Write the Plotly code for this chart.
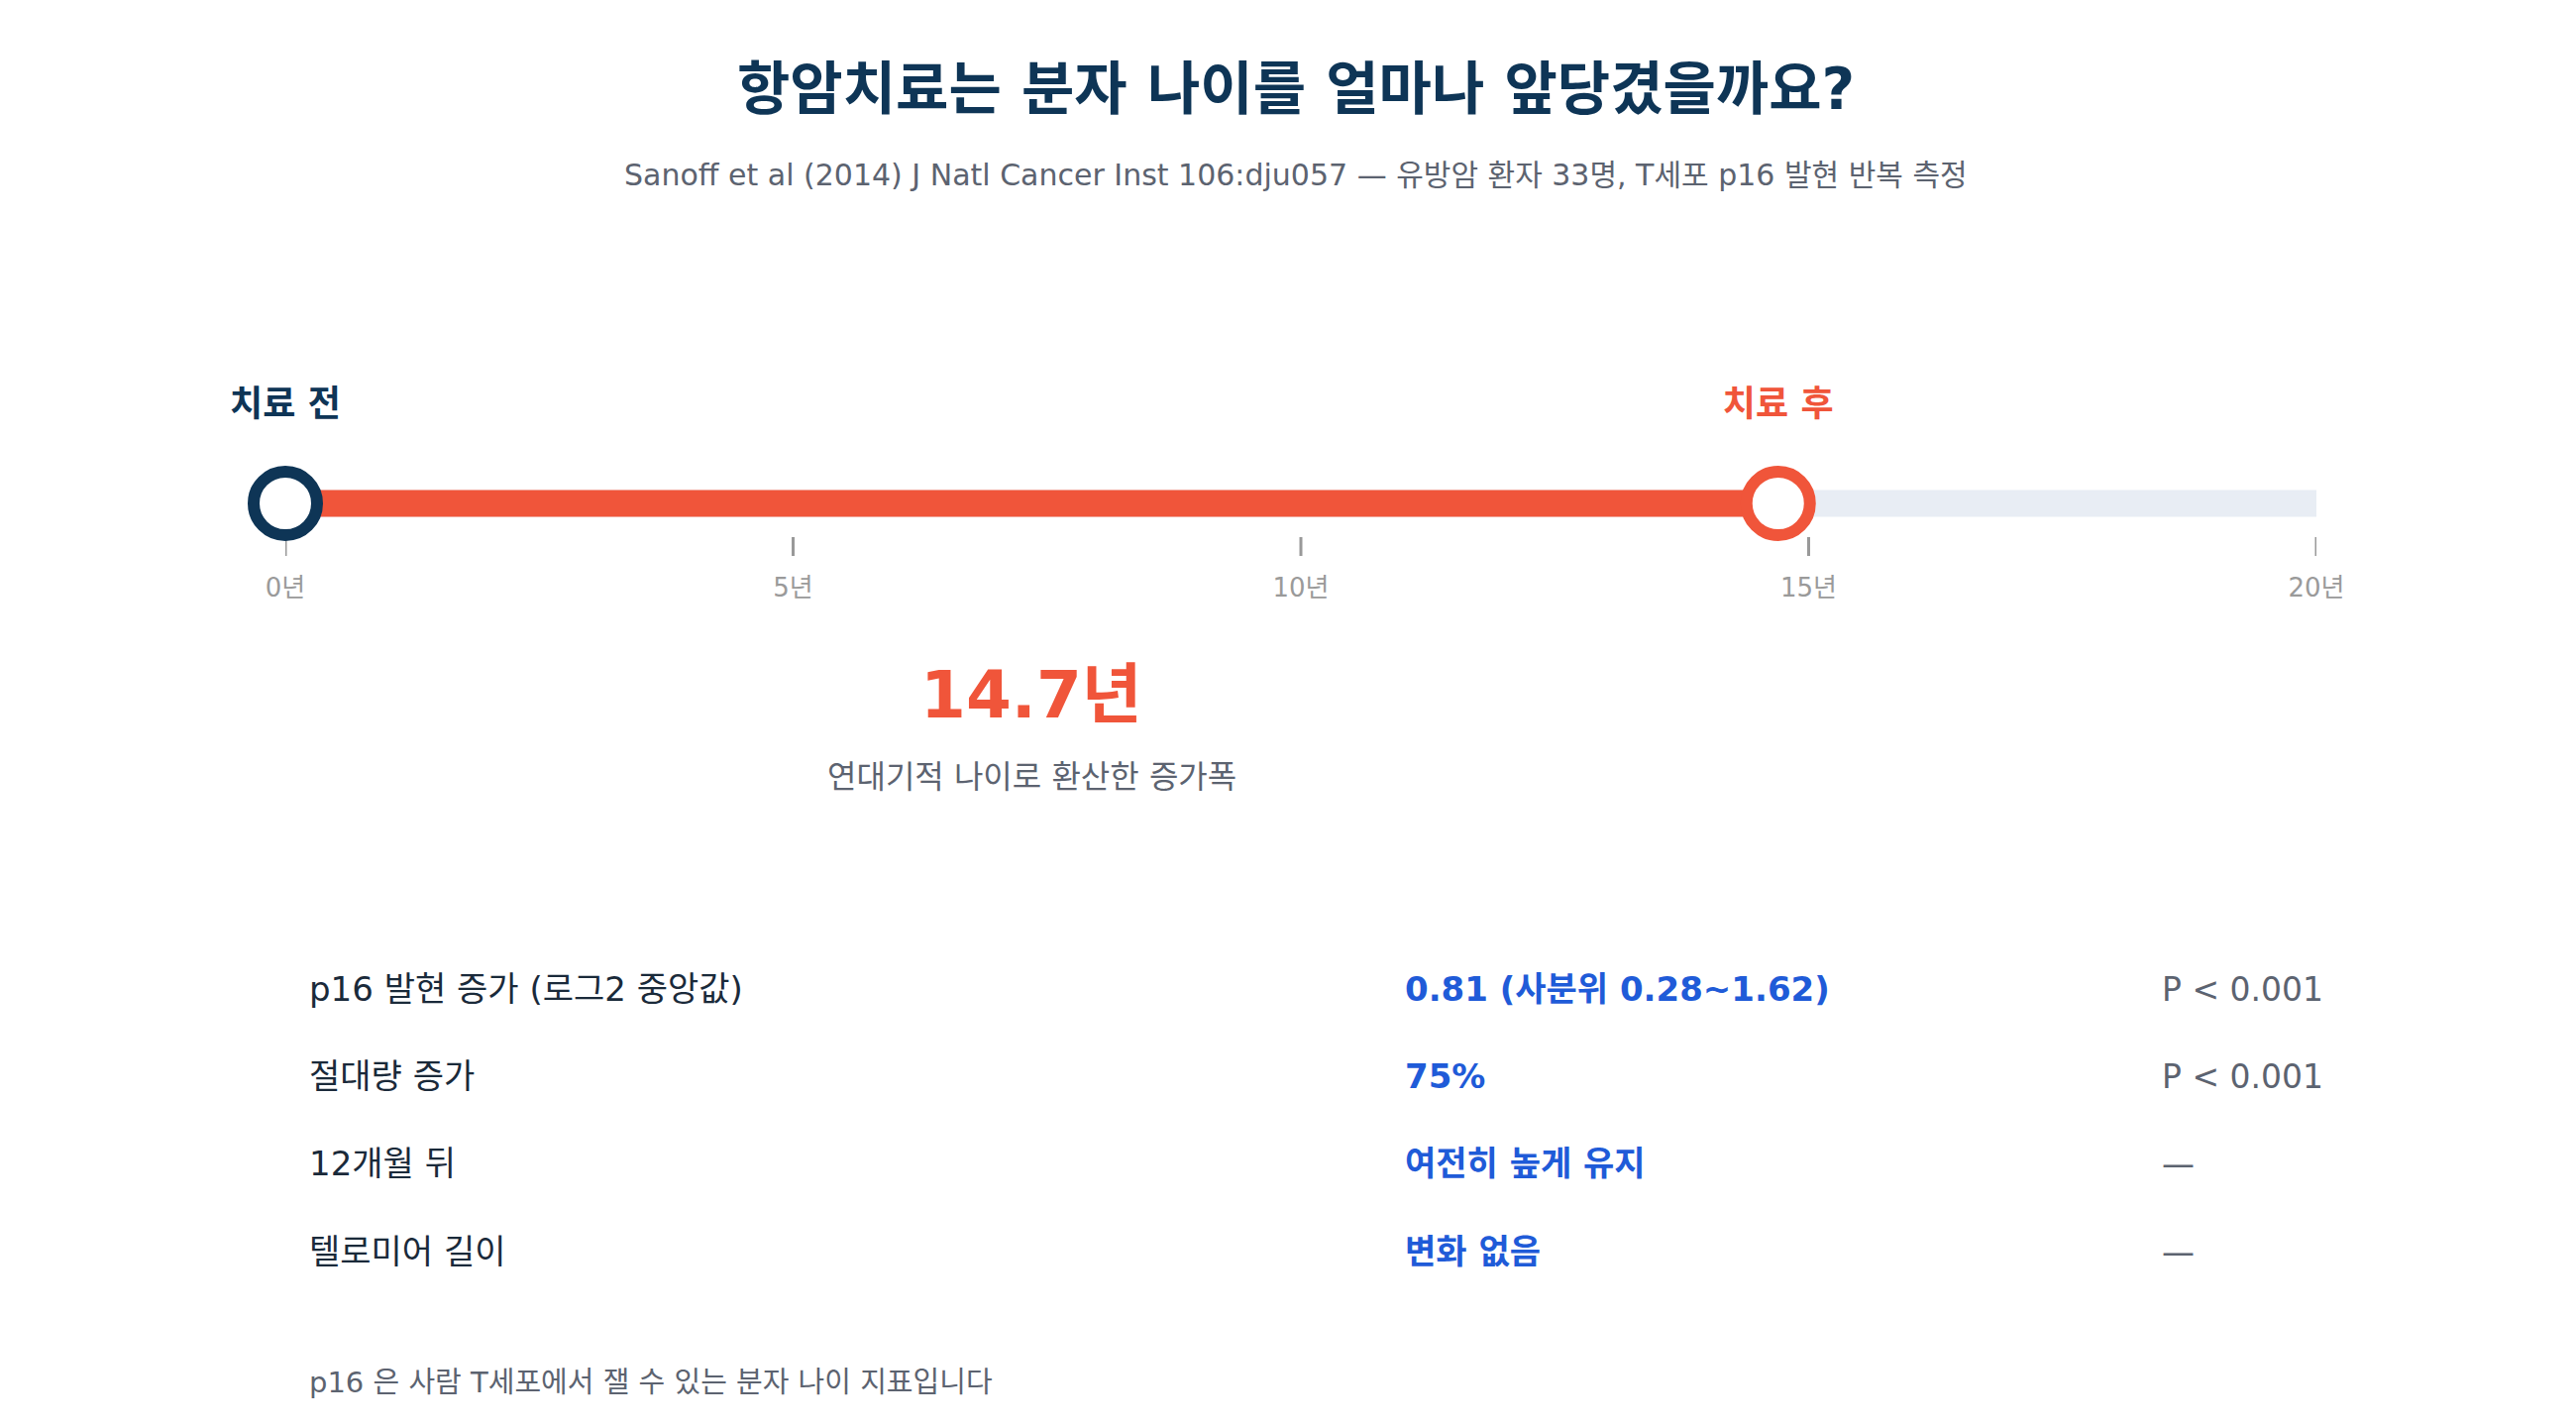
import plotly.graph_objects as go

W, H = 2600, 1440
before_year = 0.0
after_year = 14.7
track_end = 20.2
tick_vals = [0, 5, 10, 15, 20]
tick_labels = ["0년", "5년", "10년", "15년", "20년"]
row_labels = ["p16 발현 증가 (로그2 중앙값)", "절대량 증가", "12개월 뒤", "텔로미어 길이"]
row_values = ["0.81 (사분위 0.28~1.62)", "75%", "여전히 높게 유지", "변화 없음"]
row_p = ["P < 0.001", "P < 0.001", "—", "—"]

NAVY = "#0e3556"; RED = "#f0553a"; BLUE = "#1f5bd8"; GRAY = "#5c6370"
FONT = "DejaVu Sans, Noto Sans CJK KR"
LINE_Y = 500

fig = go.Figure()
fig.add_trace(go.Scatter(x=[before_year, track_end], y=[LINE_Y, LINE_Y], mode="lines",
                         line=dict(color="#e8edf4", width=27), hoverinfo="skip", cliponaxis=False))
fig.add_trace(go.Scatter(x=[before_year, after_year], y=[LINE_Y, LINE_Y], mode="lines",
                         line=dict(color=RED, width=27), hoverinfo="skip", cliponaxis=False))
for v in tick_vals:
    fig.add_trace(go.Scatter(x=[v, v], y=[534, 553], mode="lines", cliponaxis=False,
                             line=dict(color="#999999", width=3), hoverinfo="skip"))
fig.add_trace(go.Scatter(x=tick_vals, y=[587]*len(tick_vals), mode="text", text=tick_labels,
                         cliponaxis=False,
                         textfont=dict(family=FONT, size=26, color="#9a9a9a"), hoverinfo="skip"))
fig.add_trace(go.Scatter(x=[before_year], y=[LINE_Y], mode="markers", cliponaxis=False,
                         marker=dict(size=64, color="white", line=dict(color=NAVY, width=12))))
fig.add_trace(go.Scatter(x=[after_year], y=[LINE_Y], mode="markers", cliponaxis=False,
                         marker=dict(size=64, color="white", line=dict(color=RED, width=12))))
fig.add_trace(go.Scatter(x=[before_year, after_year], y=[403, 403], mode="text", cliponaxis=False,
                         text=["<b>치료 전</b>", "<b>치료 후</b>"],
                         textfont=dict(family=FONT, size=36, color=[NAVY, RED])))

ann = []
def A(x, y, t, size, color, anchor="center", bold=False):
    ann.append(dict(x=x / W, y=y, xref="paper", yref="y", text=f"<b>{t}</b>" if bold else t,
                    showarrow=False, xanchor=anchor, yanchor="middle",
                    font=dict(family=FONT, size=size, color=color)))

A(1300, 82, "항암치료는 분자 나이를 얼마나 앞당겼을까요?", 58, NAVY, bold=True)
A(1300, 168, "Sanoff et al (2014) J Natl Cancer Inst 106:dju057 — 유방암 환자 33명, T세포 p16 발현 반복 측정", 30, GRAY)
A(1033, 693, f"{after_year - before_year:.1f}년", 66, RED, bold=True)
A(1033, 776, "연대기적 나이로 환산한 증가폭", 32, GRAY)
rows_y = [990, 1078, 1166, 1255]
for y, l, v, p in zip(rows_y, row_labels, row_values, row_p):
    A(302, y, l, 34, "#1a2a3a", "left")
    A(1408, y, v, 34, BLUE, "left", bold=True)
    A(2172, y, p, 33, GRAY, "left")
A(302, 1387, "p16 은 사람 T세포에서 잴 수 있는 분자 나이 지표입니다", 29, GRAY, "left")

fig.update_layout(width=W, height=H, margin=dict(l=0, r=0, t=0, b=0),
                  plot_bgcolor="white", paper_bgcolor="white", showlegend=False,
                  annotations=ann,
                  xaxis=dict(domain=[280 / W, 2330 / W], range=[0, 20], visible=False),
                  yaxis=dict(range=[H, 0], visible=False))
fig.write_html("out.html")
